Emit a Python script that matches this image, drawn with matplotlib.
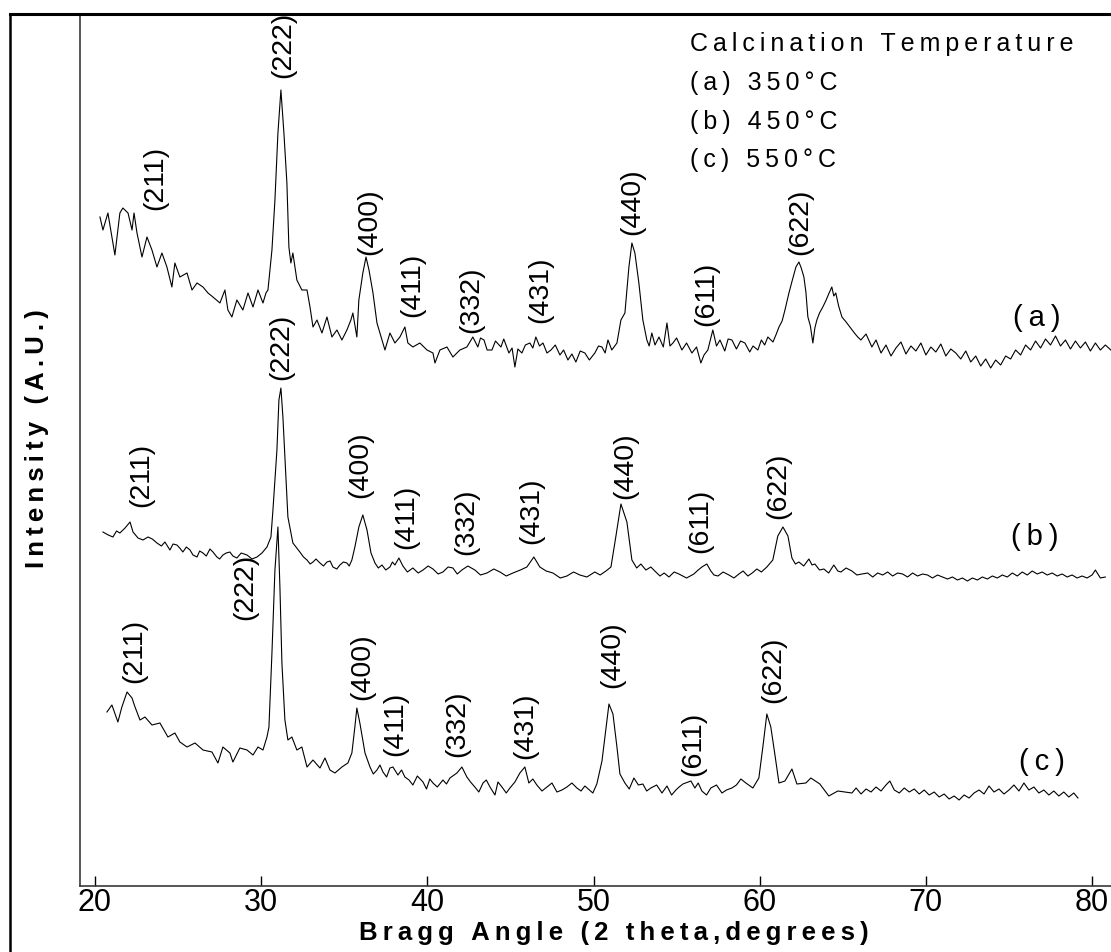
import matplotlib
matplotlib.use("Agg")
import matplotlib.pyplot as plt
from matplotlib.lines import Line2D

FONT = ["Liberation Sans", "DejaVu Sans"]
plt.rcParams["font.family"] = FONT

# ---- data: (2 theta in degrees, intensity in arbitrary units) ----
pattern_a = [
    (20.30, 669), (20.48, 656), (20.78, 673), (21.20, 631), (21.50, 673), (21.68, 678), (21.99, 673),
    (22.23, 656), (22.35, 673), (22.53, 653), (22.83, 629), (23.13, 649), (23.43, 636), (23.73, 619),
    (24.03, 633), (24.33, 619), (24.63, 599), (24.81, 623), (25.11, 609), (25.54, 613), (25.84, 596),
    (26.14, 603), (26.50, 599), (26.80, 593), (27.10, 589), (27.52, 583), (27.82, 596), (28.00, 576),
    (28.24, 569), (28.54, 586), (28.90, 576), (29.21, 593), (29.51, 579), (29.81, 596), (30.11, 583),
    (30.29, 593), (30.41, 596), (30.65, 636), (30.83, 686), (31.01, 753), (31.19, 796), (31.37, 753),
    (31.55, 703), (31.67, 639), (31.79, 623), (31.91, 633), (32.15, 606), (32.45, 596), (32.76, 596),
    (32.94, 579), (33.12, 559), (33.36, 566), (33.66, 553), (33.96, 569), (34.26, 549), (34.56, 556),
    (34.86, 546), (35.16, 556), (35.40, 566), (35.52, 573), (35.76, 549), (35.88, 586), (36.12, 613),
    (36.31, 629), (36.49, 616), (36.73, 593), (36.97, 563), (37.15, 553), (37.45, 536), (37.75, 553),
    (38.05, 543), (38.35, 549), (38.65, 559), (38.83, 543), (39.13, 539), (39.55, 543), (39.98, 536),
    (40.34, 533), (40.46, 523), (40.76, 536), (41.18, 539), (41.54, 529), (41.96, 536), (42.38, 539),
    (42.74, 549), (43.04, 539), (43.20, 548), (43.41, 546), (43.60, 536), (43.89, 536), (44.10, 545),
    (44.43, 539), (44.60, 547), (44.91, 533), (45.10, 538), (45.27, 519), (45.45, 537), (45.69, 533),
    (45.90, 541), (46.17, 543), (46.35, 538), (46.53, 549), (46.75, 540), (46.96, 543), (47.20, 533),
    (47.44, 536), (47.70, 541), (47.98, 531), (48.20, 536), (48.46, 526), (48.70, 532), (48.94, 524),
    (49.20, 535), (49.48, 533), (49.75, 526), (50.08, 533), (50.30, 540), (50.51, 539), (50.70, 533),
    (50.87, 546), (51.10, 536), (51.41, 543), (51.65, 566), (51.89, 573), (52.13, 619), (52.31, 643),
    (52.49, 633), (52.73, 603), (52.97, 566), (53.21, 546), (53.35, 540), (53.51, 553), (53.70, 541),
    (53.94, 549), (54.20, 539), (54.42, 563), (54.60, 540), (54.78, 543), (55.00, 548), (55.32, 536),
    (55.60, 543), (55.92, 533), (56.20, 539), (56.46, 523), (56.65, 531), (56.88, 536), (57.18, 556),
    (57.40, 540), (57.61, 546), (57.90, 535), (58.10, 547), (58.33, 546), (58.60, 537), (58.85, 545),
    (59.11, 543), (59.40, 534), (59.60, 540), (59.89, 536), (60.10, 546), (60.30, 541), (60.49, 549),
    (60.80, 544), (61.00, 552), (61.16, 559), (61.35, 565), (61.52, 576), (61.76, 593), (61.95, 605),
    (62.18, 619), (62.36, 624), (62.50, 618), (62.66, 609), (62.78, 594), (62.90, 569), (63.05, 560),
    (63.20, 543), (63.32, 558), (63.44, 566), (63.60, 573), (63.80, 579), (64.00, 586), (64.15, 592),
    (64.34, 599), (64.46, 590), (64.58, 593), (64.75, 580), (64.95, 569), (65.20, 564), (65.43, 559),
    (65.70, 553), (65.90, 549), (66.09, 546), (66.40, 552), (66.75, 539), (67.00, 546), (67.30, 533),
    (67.60, 541), (67.90, 530), (68.20, 538), (68.50, 544), (68.80, 532), (69.10, 540), (69.40, 535),
    (69.70, 543), (70.00, 531), (70.30, 539), (70.60, 534), (70.90, 542), (71.20, 530), (71.50, 537),
    (71.80, 533), (72.10, 527), (72.40, 535), (72.70, 524), (73.00, 530), (73.30, 520), (73.60, 527),
    (73.90, 518), (74.20, 526), (74.50, 521), (74.80, 530), (75.10, 527), (75.40, 536), (75.70, 531),
    (76.00, 541), (76.30, 536), (76.60, 545), (76.90, 538), (77.20, 547), (77.50, 541), (77.80, 550),
    (78.10, 540), (78.40, 546), (78.70, 537), (79.00, 545), (79.30, 538), (79.60, 544), (79.90, 535),
    (80.20, 543), (80.50, 536), (80.80, 541), (81.13, 536),
]

pattern_b = [
    (20.48, 354), (20.80, 351), (21.08, 349), (21.30, 355), (21.50, 353), (21.81, 358), (22.11, 364),
    (22.29, 354), (22.59, 348), (22.89, 346), (23.19, 349), (23.45, 347), (23.73, 343), (24.00, 340),
    (24.21, 344), (24.51, 336), (24.70, 342), (24.93, 341), (25.10, 338), (25.29, 334), (25.50, 339),
    (25.72, 336), (25.90, 331), (26.14, 329), (26.30, 335), (26.50, 333), (26.70, 330), (26.92, 337),
    (27.10, 334), (27.34, 329), (27.50, 327), (27.70, 331), (27.90, 333), (28.12, 334), (28.30, 330),
    (28.54, 328), (28.80, 333), (29.15, 331), (29.45, 327), (29.75, 329), (30.05, 333), (30.35, 339),
    (30.59, 349), (30.71, 376), (30.95, 436), (31.07, 486), (31.19, 498), (31.31, 469), (31.49, 409),
    (31.61, 369), (31.91, 343), (32.33, 334), (32.55, 329), (32.76, 326), (32.95, 322), (33.12, 324),
    (33.30, 327), (33.54, 323), (33.75, 320), (33.96, 324), (34.15, 325), (34.32, 319), (34.55, 317),
    (34.74, 321), (34.95, 324), (35.16, 323), (35.30, 320), (35.46, 326), (35.64, 339), (35.88, 359),
    (36.12, 371), (36.37, 356), (36.61, 333), (36.85, 323), (37.05, 318), (37.27, 321), (37.50, 316),
    (37.75, 319), (37.90, 324), (38.05, 321), (38.29, 328), (38.53, 320), (38.80, 314), (39.13, 318),
    (39.45, 313), (39.74, 316), (40.05, 320), (40.34, 317), (40.65, 312), (40.94, 314), (41.25, 319),
    (41.54, 318), (41.80, 312), (42.08, 316), (42.44, 320), (42.86, 316), (43.20, 311), (43.59, 313),
    (44.00, 317), (44.37, 314), (44.75, 310), (45.15, 313), (45.60, 316), (45.99, 319), (46.41, 329),
    (46.77, 319), (47.15, 315), (47.56, 313), (48.00, 308), (48.40, 310), (48.80, 314), (49.18, 311),
    (49.60, 309), (50.08, 314), (50.40, 311), (50.75, 315), (51.05, 319), (51.35, 350), (51.65, 382),
    (52.01, 364), (52.31, 326), (52.60, 318), (52.85, 322), (53.15, 316), (53.45, 319), (53.75, 314),
    (54.00, 310), (54.25, 313), (54.54, 309), (54.85, 314), (55.14, 312), (55.60, 308), (56.04, 312),
    (56.30, 316), (56.52, 319), (56.82, 322), (57.06, 315), (57.25, 311), (57.49, 310), (57.80, 314),
    (58.15, 311), (58.45, 308), (58.75, 312), (59.00, 315), (59.29, 310), (59.55, 313), (59.83, 317),
    (60.10, 314), (60.43, 319), (60.79, 326), (61.09, 350), (61.40, 359), (61.70, 350), (61.94, 328),
    (62.15, 322), (62.36, 324), (62.65, 320), (62.96, 327), (63.15, 321), (63.32, 322), (63.60, 316),
    (63.86, 317), (64.15, 313), (64.46, 321), (64.70, 315), (64.89, 314), (65.20, 318), (65.55, 315),
    (65.85, 311), (66.15, 312), (66.50, 313), (66.80, 309), (67.10, 313), (67.40, 311), (67.70, 314),
    (68.00, 310), (68.30, 313), (68.60, 312), (68.90, 309), (69.20, 313), (69.50, 310), (69.80, 312),
    (70.10, 311), (70.40, 308), (70.70, 311), (71.00, 309), (71.30, 307), (71.60, 309), (71.90, 306),
    (72.20, 308), (72.50, 305), (72.80, 308), (73.10, 306), (73.40, 309), (73.70, 307), (74.00, 310),
    (74.30, 308), (74.60, 311), (74.90, 309), (75.20, 313), (75.50, 310), (75.80, 314), (76.10, 311),
    (76.40, 315), (76.70, 312), (77.00, 314), (77.30, 311), (77.60, 313), (77.90, 310), (78.20, 312),
    (78.50, 309), (78.80, 311), (79.10, 308), (79.40, 310), (79.70, 308), (80.00, 311), (80.20, 316),
    (80.50, 308), (80.80, 309),
]

pattern_c = [
    (20.72, 174), (21.02, 181), (21.38, 164), (21.62, 179), (21.93, 194), (22.23, 188), (22.41, 179),
    (22.71, 166), (23.01, 169), (23.43, 161), (23.91, 163), (24.39, 149), (24.81, 153), (25.11, 144),
    (25.54, 139), (26.02, 143), (26.50, 136), (27.04, 134), (27.40, 123), (27.70, 139), (28.12, 133),
    (28.30, 124), (28.72, 138), (29.15, 136), (29.51, 131), (29.81, 139), (30.11, 136), (30.35, 149),
    (30.47, 159), (30.65, 233), (30.83, 316), (31.01, 359), (31.13, 299), (31.25, 223), (31.43, 166),
    (31.61, 146), (31.85, 149), (32.15, 136), (32.45, 139), (32.76, 119), (33.12, 126), (33.54, 118),
    (33.84, 128), (34.14, 116), (34.44, 113), (34.86, 119), (35.22, 123), (35.46, 133), (35.64, 159),
    (35.76, 178), (35.94, 163), (36.25, 133), (36.55, 119), (36.75, 112), (36.97, 116), (37.15, 121),
    (37.33, 114), (37.55, 109), (37.75, 118), (37.93, 119), (38.23, 111), (38.45, 116), (38.65, 109),
    (38.90, 106), (39.13, 101), (39.40, 110), (39.74, 104), (39.95, 97), (40.15, 107), (40.34, 103),
    (40.60, 99), (40.94, 106), (41.15, 102), (41.36, 108), (41.78, 113), (42.08, 119), (42.38, 109),
    (42.60, 104), (42.86, 99), (43.10, 94), (43.35, 103), (43.55, 106), (43.77, 99), (44.07, 91),
    (44.25, 104), (44.49, 99), (44.75, 93), (44.97, 98), (45.27, 104), (45.57, 113), (45.87, 119),
    (46.11, 103), (46.35, 107), (46.59, 101), (46.90, 95), (47.20, 99), (47.50, 103), (47.80, 94),
    (48.10, 96), (48.40, 99), (48.70, 103), (49.00, 98), (49.25, 95), (49.48, 100), (49.96, 93),
    (50.20, 102), (50.51, 125), (50.93, 182), (51.17, 172), (51.41, 139), (51.59, 112), (51.89, 103),
    (52.15, 97), (52.43, 108), (52.70, 101), (52.97, 102), (53.20, 95), (53.45, 98), (53.80, 101),
    (54.12, 93), (54.42, 100), (54.70, 91), (54.96, 96), (55.15, 99), (55.38, 102), (55.86, 105),
    (56.10, 98), (56.30, 103), (56.52, 95), (56.80, 91), (57.06, 98), (57.40, 101), (57.73, 93),
    (58.00, 96), (58.33, 98), (58.60, 101), (58.87, 107), (59.17, 103), (59.59, 98), (59.95, 108),
    (60.19, 139), (60.43, 172), (60.67, 159), (60.91, 132), (61.16, 103), (61.52, 105), (61.94, 117),
    (62.24, 102), (62.78, 103), (63.08, 108), (63.62, 102), (64.16, 90), (64.70, 95), (65.55, 93),
    (65.80, 98), (66.10, 92), (66.40, 97), (66.70, 94), (67.00, 99), (67.30, 95), (67.60, 101),
    (67.83, 105), (68.10, 96), (68.40, 93), (68.70, 98), (69.00, 94), (69.30, 97), (69.60, 92),
    (69.90, 96), (70.20, 91), (70.50, 94), (70.80, 89), (71.10, 92), (71.40, 87), (71.70, 90),
    (72.00, 86), (72.30, 91), (72.60, 88), (72.90, 93), (73.20, 96), (73.50, 92), (73.80, 100),
    (74.10, 94), (74.40, 97), (74.70, 92), (75.00, 96), (75.30, 101), (75.60, 95), (75.90, 103),
    (76.20, 96), (76.50, 99), (76.80, 93), (77.10, 96), (77.40, 91), (77.70, 95), (78.00, 90),
    (78.30, 94), (78.60, 89), (78.90, 93), (79.15, 88),
]

# Miller indices written above each pattern
hkl = ["(211)", "(222)", "(400)", "(411)", "(332)", "(431)", "(440)", "(611)", "(622)"]

# where each index label sits (2 theta, intensity)
label_pos_a = [(23.61, 708), (31.31, 841), (36.49, 664), (39.07, 601), (42.62, 586),
               (46.77, 596), (52.31, 684), (56.76, 592), (62.42, 664)]
label_pos_b = [(22.77, 411), (31.19, 539), (35.94, 421), (38.71, 369), (42.32, 364),
               (46.23, 375), (51.89, 420), (56.40, 365), (61.09, 400)]
label_pos_c = [(22.35, 235), (29.03, 299), (36.07, 219), (38.05, 162), (41.78, 162),
               (45.87, 160), (51.11, 231), (55.98, 142), (60.79, 216)]

curve_names = ["(a)", "(b)", "(c)"]
curve_name_pos = [(76.68, 568), (76.56, 349), (76.98, 124)]

legend_lines = ["Calcination Temperature", "(a) 350°C", "(b) 450°C", "(c) 550°C"]


def spaced(s, sep="\u2009"):
    return sep.join(s)


W, H = 1111, 952
fig = plt.figure(figsize=(W / 100, H / 100), dpi=100)
ax = fig.add_axes([80 / W, 66 / H, 1031 / W, 872 / H])

for pattern in [pattern_a, pattern_b, pattern_c]:
    two_theta, intensity = zip(*pattern)
    ax.plot(two_theta, intensity, color="black", lw=0.8)

for positions in [label_pos_a, label_pos_b, label_pos_c]:
    for name, (x, y) in zip(hkl, positions):
        ax.text(x, y, name, rotation=90, ha="center", va="center", fontsize=20.5,
                family=FONT, clip_on=False)

for name, (x, y) in zip(curve_names, curve_name_pos):
    ax.text(x, y, spaced(name), ha="center", va="center", fontsize=21, family=FONT)

legend_y = [0.9656, 0.9209, 0.8761, 0.8326]
for line, yy in zip(legend_lines, legend_y):
    ax.text(0.592, yy, spaced(line), transform=ax.transAxes, ha="left", va="center",
            fontsize=18, family=FONT)

ax.set_xlim(19.10, 81.14)
ax.set_ylim(0, 872)
ax.set_xticks(range(20, 81, 10))
ax.set_yticks([])
ax.tick_params(axis="x", direction="in", length=7, width=1.0, labelsize=22, pad=1.5)
for lab in ax.get_xticklabels():
    lab.set_family(FONT)
ax.spines["right"].set_visible(False)
ax.spines["top"].set_visible(False)
for side in ["left", "bottom"]:
    ax.spines[side].set_color("#3a3a3a")
    ax.spines[side].set_linewidth(1.2)

# outer frame of the original picture
fig.add_artist(Line2D([10 / W, 10 / W], [0, (H - 14) / H], color="black", lw=1.8,
                      transform=fig.transFigure))
fig.add_artist(Line2D([10 / W, 1], [(H - 14) / H, (H - 14) / H], color="black", lw=2.2,
                      transform=fig.transFigure))

fig.text(614 / W, (H - 933) / H, spaced("Bragg Angle (2 theta,degrees)"), ha="center",
         va="center", fontsize=18.5, fontweight="bold", family=FONT)
fig.text(37 / W, (H - 439) / H, spaced("Intensity (A.U.)"), rotation=90, ha="center",
         va="center", fontsize=18.5, fontweight="bold", family=FONT)

fig.savefig("out.png", dpi=100)
